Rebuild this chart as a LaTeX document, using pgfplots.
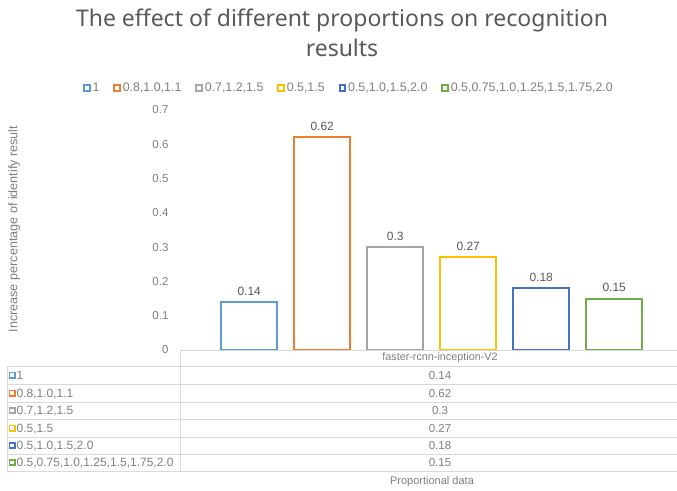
\documentclass[border=0pt]{standalone}
\usepackage{fontspec}
\setmainfont{Liberation Sans}
\newfontfamily\titlefont{Noto Sans}
\usepackage{pgfplots}
\pgfplotsset{compat=1.18}
\definecolor{c1}{HTML}{5B9BD5}
\definecolor{c2}{HTML}{ED7D31}
\definecolor{c3}{HTML}{A5A5A5}
\definecolor{c4}{HTML}{FFC000}
\definecolor{c5}{HTML}{4472C4}
\definecolor{c6}{HTML}{70AD47}
\definecolor{txt}{HTML}{595959}
\definecolor{ltxt}{HTML}{7F7F7F}
\definecolor{gridc}{HTML}{D9D9D9}
\begin{document}
\begin{tikzpicture}[x=1pt,y=1pt]
\useasboundingbox (0,0) rectangle (677,-490);
\begin{axis}[
  at={(180pt,-350pt)}, anchor=south west,
  width=497pt, height=240pt, scale only axis,
  xmin=-0.5065, xmax=0.4935, ymin=0, ymax=0.7,
  ybar=17pt, bar width=56pt,
  axis line style={draw=none},
  major tick length=0pt,
  xtick=\empty,
  ytick={0,0.1,0.2,0.3,0.4,0.5,0.6,0.7},
  yticklabel style={font=\fontsize{11.5}{12}\selectfont, text=ltxt, xshift=-8pt},
  /pgf/number format/assume math mode=true,
  /pgf/number format/fixed,
  clip=false,
  legend columns=6,
  legend style={draw=none, fill=none, at={(axis description cs:0.340,1.092)}, anchor=center,
    font=\fontsize{12.4}{13}\selectfont, text=ltxt,
    /tikz/every even column/.append style={column sep=12pt}},
  legend image code/.code={\draw[fill=white,line width=1.8pt] (0pt,-2.8pt) rectangle (5.6pt,2.8pt);},
  nodes near coords,
  every node near coord/.append style={font=\fontsize{12}{13}\selectfont, text=txt, yshift=2.5pt},
  /pgf/number format/precision=2,
]
\addplot[draw=c1, fill=white, line width=2pt] coordinates {(0,0.14)};
\addplot[draw=c2, fill=white, line width=2pt] coordinates {(0,0.62)};
\addplot[draw=c3, fill=white, line width=2pt] coordinates {(0,0.30)};
\addplot[draw=c4, fill=white, line width=2pt] coordinates {(0,0.27)};
\addplot[draw=c5, fill=white, line width=2pt] coordinates {(0,0.18)};
\addplot[draw=c6, fill=white, line width=2pt] coordinates {(0,0.15)};
\legend{1,{0.8,1.0,1.1},{0.7,1.2,1.5},{0.5,1.5},{0.5,1.0,1.5,2.0},{0.5,0.75,1.0,1.25,1.5,1.75,2.0}}
\end{axis}
% title
\node[align=center, font=\titlefont\fontsize{23}{30}\selectfont, text=txt] at (342,-33)
  {The effect of different proportions on recognition\\results};
% y label
\node[rotate=90, font=\fontsize{12.6}{13}\selectfont, text=ltxt] at (14,-229)
  {Increase percentage of identify result};
% data table
\begin{scope}[gridc, line width=0.8pt]
\draw (180,-350) -- (677,-350);
\foreach \y in {366,384,402,419,437,454,471} \draw (7,-\y) -- (677,-\y);
\draw (180,-350) -- (180,-471);
\draw (7,-366) -- (7,-471);
\end{scope}
\begin{scope}[text=ltxt]
\node[font=\fontsize{10.8}{12}\selectfont] at (440,-358) {faster-rcnn-inception-V2};
\foreach \yc/\col/\lab/\val in {375/c1/{1}/{0.14}, 393/c2/{0.8,1.0,1.1}/{0.62}, 410.5/c3/{0.7,1.2,1.5}/{0.3}, 428/c4/{0.5,1.5}/{0.27}, 445.5/c5/{0.5,1.0,1.5,2.0}/{0.18}, 462.5/c6/{0.5,0.75,1.0,1.25,1.5,1.75,2.0}/{0.15}}{
  \draw[\col, fill=white, line width=1.6pt] (9.5,-\yc+2.7) rectangle (14.9,-\yc-2.7);
  \node[anchor=base west, inner sep=0pt, font=\fontsize{12}{13}\selectfont] at (16.5,-\yc-4.3) {\lab};
  \node[anchor=base, inner sep=0pt, font=\fontsize{11.5}{12}\selectfont] at (440,-\yc-4.1) {\val};
}
\node[font=\fontsize{11}{12}\selectfont] at (432,-482) {Proportional data};
\end{scope}
\end{tikzpicture}
\end{document}
